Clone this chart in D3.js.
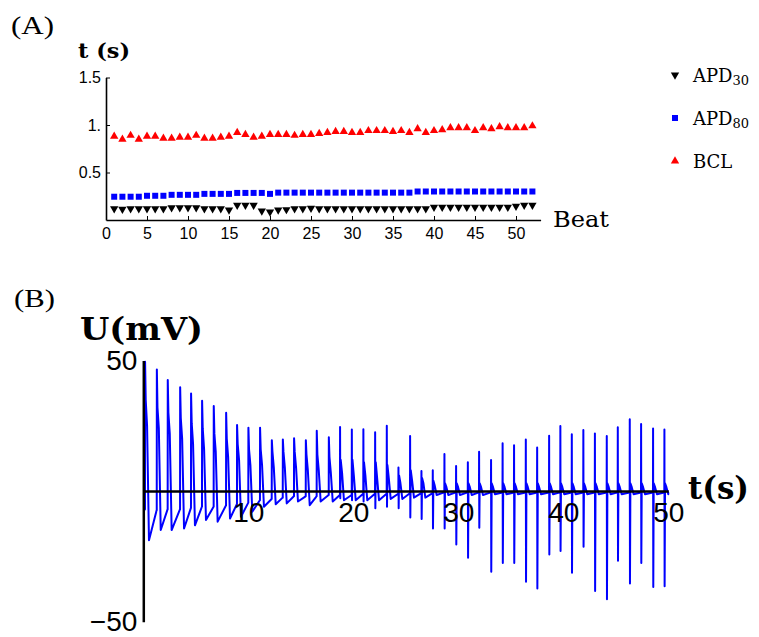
<!DOCTYPE html>
<html>
<head>
<meta charset="utf-8">
<script src="https://cdn.jsdelivr.net/npm/d3@7"></script>
<style>
  body { margin: 0; background: #fff; }
  .tick line { stroke: #000; }
</style>
</head>
<body>
<div id="chart"></div>
<script>
// ---- panel A : per beat intervals (s) ----
var beatNo = d3.range(1, 53);
var bcl = [0.88,0.85,0.89,0.85,0.88,0.88,0.86,0.86,0.87,0.87,
           0.89,0.86,0.86,0.87,0.88,0.92,0.90,0.87,0.88,0.90,
           0.90,0.90,0.89,0.90,0.90,0.91,0.92,0.93,0.93,0.92,
           0.92,0.94,0.94,0.94,0.93,0.94,0.92,0.96,0.92,0.94,
           0.95,0.97,0.97,0.97,0.94,0.97,0.96,0.98,0.97,0.97,0.97,0.99];
var apd80 = [0.245,0.245,0.245,0.245,0.255,0.255,0.255,0.265,0.265,0.265,
             0.265,0.275,0.275,0.275,0.275,0.285,0.285,0.285,0.285,0.275,
             0.288,0.288,0.288,0.288,0.288,0.288,0.288,0.288,0.288,0.288,
             0.288,0.288,0.288,0.288,0.288,0.288,0.288,0.300,0.300,0.300,
             0.300,0.300,0.300,0.300,0.300,0.300,0.300,0.300,0.300,0.300,0.300,0.300];
var apd30 = [0.120,0.115,0.120,0.120,0.120,0.120,0.120,0.130,0.130,0.130,
             0.130,0.120,0.120,0.120,0.105,0.155,0.155,0.155,0.095,0.085,
             0.105,0.110,0.120,0.120,0.125,0.120,0.120,0.120,0.120,0.120,
             0.120,0.120,0.120,0.120,0.120,0.120,0.120,0.120,0.120,0.135,
             0.135,0.135,0.135,0.135,0.135,0.135,0.135,0.135,0.135,0.145,0.155,0.155];
var beatTicks = [0,5,10,15,20,25,30,35,40,45,50];
var tTicks = [0.5, 1, 1.5];
var tTickText = ["0.5", "1.", "1.5"];

// ---- panel B : membrane potential trace, one entry per beat ----
var spikeT = [0.16,1.28,2.32,3.50,4.54,5.59,6.70,7.88,8.92,10.0,
              11.11,12.23,13.28,14.35,15.47,16.51,17.66,18.73,19.85,20.95,
              22.07,23.18,24.29,25.4,26.48,27.56,28.67,29.78,30.9,31.97,
              33.11,34.21,35.3,36.42,37.5,38.64,39.71,40.8,41.9,43.0,
              44.13,45.18,46.32,47.4,48.54,49.62];
var peakV = [49.5,46.6,42.5,39.8,37.4,34.6,32.6,30.0,25.3,24.3,
             24.3,19.5,19.8,20.2,19.5,23.1,20.6,24.5,23.6,23.7,
             22.5,25.0,9.0,21.1,7.7,8.0,14.2,9.6,11.0,15.1,
             11.9,18.3,17.6,19.8,16.7,21.2,24.9,21.8,23.4,22.1,
             21.1,24.4,27.5,25.7,24.0,23.6];
var downV = [null,null,null,null,null,null,null,null,null,null,
             null,null,null,null,null,null,null,-2.7,-3.5,-4.0,
             -6.6,-6.0,-6.6,-10.1,-10.7,-14.3,-14.3,-20.4,-25.5,-14.0,
             -30.9,-27.5,-27.5,-34.7,-37.3,-24.3,-22.9,-31.3,-21.3,-38.2,
             -41.4,-26.7,-35.4,-27.5,-36.7,-36.4];
var shoulderV = [35,32,30,28,26,24,22,20,18,16,
                 16,15,15,15,14,14,13,12,12,11,
                 11,10,6,8,5,4,3,3,3,3,
                 3,3,3,3,3,3,3,3,3,3,
                 3,3,3,3,3,3];
var plateauV = [25,24,22,20,18,16,15,13,12,10,
                10,9,9,9,8,8,7,7,6,6,
                5,5,3,4,3,2,1.5,1.5,1.5,1.5,
                1.5,1.5,1.5,1.5,1.5,1.5,1.5,1.5,1.5,1.5,
                1.5,1.5,1.5,1.5,1.5,1.5];
var troughV = [-18.8,-14.9,-14.9,-14.3,-13.1,-11.1,-11.7,-10.5,-9.8,-7.9,
               -6.0,-5.0,-4.7,-4.0,-5.4,-4.0,-4.0,-3.5,-3.5,-3.5,
               -3.5,-3.0,-3.0,-2.5,-2.5,-1.5,-1.5,-1.5,-1.5,-1.5,
               -1.2,-1.2,-1.2,-1.2,-1.2,-1.2,-1.2,-1.2,-1.2,-1.2,
               -1.2,-1.2,-1.2,-1.2,-1.2,-1.2];
var endV = [-7.3,-7.0,-7.0,-6.5,-6.0,-6.0,-5.5,-5.0,-4.5,-3.5,
            -3.0,-2.5,-2.0,-2.0,-2.0,-1.5,-1.5,-1.5,-1.0,-1.0,
            -1.0,-1.0,-0.8,-0.8,-0.8,-0.5,-0.5,-0.5,-0.5,-0.5,
            -0.5,-0.5,-0.5,-0.5,-0.5,-0.5,-0.5,-0.5,-0.5,-0.5,
            -0.5,-0.5,-0.5,-0.5,-0.5,-0.5];
var startV = -7.0;
var uTicks = [10, 20, 30, 40, 50];

var W = 759, H = 637;
var serif = "DejaVu Serif, serif";
var svg = d3.select("#chart").append("svg")
  .attr("width", W).attr("height", H)
  .style("font-family", "Liberation Sans, Arial, sans-serif");

// ================= panel A =================
var xA = d3.scaleLinear().domain([0, 53]).range([106, 540.6]);
var yA = d3.scaleLinear().domain([0, 1.5]).range([220, 77.5]);

var gA = svg.append("g");

gA.append("g")
  .attr("transform", "translate(0," + yA(0) + ")")
  .call(d3.axisBottom(xA).tickValues(beatTicks).tickSizeInner(-4).tickSizeOuter(0).tickPadding(8))
  .call(function(g) {
    g.select(".domain").attr("stroke", "#000").attr("stroke-width", 1.6);
    g.selectAll("text").attr("font-size", 16).attr("fill", "#000");
  });

gA.append("g")
  .attr("transform", "translate(" + xA(0) + ",0)")
  .call(d3.axisLeft(yA).tickValues(tTicks).tickSizeInner(-4).tickSizeOuter(0).tickPadding(5)
        .tickFormat(function(d, i) { return tTickText[i]; }))
  .call(function(g) {
    g.select(".domain").attr("stroke", "#000").attr("stroke-width", 1.6);
    g.selectAll("text").attr("font-size", 16).attr("fill", "#000");
  });

var triUp = d3.symbol(d3.symbolTriangle).size(30);
var square = d3.symbol(d3.symbolSquare).size(36);

gA.append("g").selectAll("path")
  .data(beatNo).enter().append("path")
    .attr("d", triUp)
    .attr("fill", "#ff0000")
    .attr("transform", function(d, i) { return "translate(" + xA(d) + "," + yA(bcl[i]) + ")"; });

gA.append("g").selectAll("path")
  .data(beatNo).enter().append("path")
    .attr("d", square)
    .attr("fill", "#0000ff")
    .attr("transform", function(d, i) { return "translate(" + xA(d) + "," + yA(apd80[i]) + ")"; });

gA.append("g").selectAll("path")
  .data(beatNo).enter().append("path")
    .attr("d", triUp)
    .attr("fill", "#000")
    .attr("transform", function(d, i) { return "translate(" + xA(d) + "," + yA(apd30[i]) + ") rotate(180)"; });

// labels panel A
svg.append("text").attr("x", 11).attr("y", 34)
  .attr("font-family", "Liberation Serif, serif").attr("font-size", 26)
  .attr("textLength", 43).attr("lengthAdjust", "spacingAndGlyphs")
  .text("(A)");
svg.append("text").attr("x", 78).attr("y", 58)
  .attr("font-family", serif).attr("font-size", 21).attr("font-weight", "bold")
  .attr("textLength", 52).attr("lengthAdjust", "spacingAndGlyphs")
  .text("t (s)");
svg.append("text").attr("x", 553).attr("y", 227)
  .attr("font-family", serif).attr("font-size", 22)
  .attr("textLength", 56).attr("lengthAdjust", "spacingAndGlyphs")
  .text("Beat");

// legend
var legend = [
  {sym: triUp, rot: 180, color: "#000", name: "APD", sub: "30", y: 75},
  {sym: square, rot: 0, color: "#0000ff", name: "APD", sub: "80", y: 118},
  {sym: triUp, rot: 0, color: "#ff0000", name: "BCL", sub: "", y: 161}
];
var lg = svg.append("g").selectAll("g").data(legend).enter().append("g");
lg.append("path")
  .attr("d", function(d) { return d.sym(); })
  .attr("fill", function(d) { return d.color; })
  .attr("transform", function(d) { return "translate(675," + d.y + ") rotate(" + d.rot + ")"; });
var lt = lg.append("text")
  .attr("x", 693).attr("y", function(d) { return d.y + 7; })
  .attr("font-family", serif).attr("font-size", 18);
lt.append("tspan").text(function(d) { return d.name; });
lt.append("tspan").attr("font-size", 13).attr("dy", 3).text(function(d) { return d.sub; });

// ================= panel B =================
var xB = d3.scaleLinear().domain([0, 50]).range([143.3, 668.3]);
var yB = d3.scaleLinear().domain([-50, 50]).range([621.7, 360.5]);

// build the trace beat by beat from the read values
var trace = [[0, startV]];
spikeT.forEach(function(t0, i) {
  var prev = i === 0 ? startV : endV[i - 1];
  var tNext = i < spikeT.length - 1 ? spikeT[i + 1] : 50;
  trace.push([t0, prev]);
  trace.push([t0 + 0.01, peakV[i]]);
  if (downV[i] !== null) {
    trace.push([t0 + 0.03, downV[i]]);
  }
  trace.push([t0 + 0.07, shoulderV[i]]);
  trace.push([t0 + 0.2, plateauV[i]]);
  trace.push([t0 + 0.38, troughV[i]]);
  trace.push([tNext - 0.01, endV[i]]);
});

var line = d3.line()
  .x(function(d) { return xB(d[0]); })
  .y(function(d) { return yB(d[1]); });

svg.append("path")
  .datum(trace)
  .attr("d", line)
  .attr("fill", "none")
  .attr("stroke", "#0000ff")
  .attr("stroke-width", 2)
  .attr("stroke-linejoin", "round");

svg.append("g")
  .attr("transform", "translate(0," + yB(0) + ")")
  .call(d3.axisBottom(xB).tickValues(uTicks).tickSize(0).tickPadding(11))
  .call(function(g) {
    g.select(".domain").attr("stroke", "#000").attr("stroke-width", 2.5);
    g.selectAll("text").attr("font-size", 28).attr("fill", "#000");
  });

svg.append("g")
  .attr("transform", "translate(" + xB(0) + ",0)")
  .call(d3.axisLeft(yB).tickValues([-50, 50]).tickSize(0).tickPadding(6))
  .call(function(g) {
    g.select(".domain").attr("stroke", "#000").attr("stroke-width", 2.5);
    g.selectAll("text").attr("font-size", 28).attr("fill", "#000");
  });

svg.append("text").attr("x", 14).attr("y", 307)
  .attr("font-family", "Liberation Serif, serif").attr("font-size", 26)
  .attr("textLength", 41).attr("lengthAdjust", "spacingAndGlyphs")
  .text("(B)");
svg.append("text").attr("x", 80).attr("y", 340)
  .attr("font-family", serif).attr("font-size", 32).attr("font-weight", "bold")
  .attr("textLength", 123).attr("lengthAdjust", "spacingAndGlyphs")
  .text("U(mV)");
svg.append("text").attr("x", 688).attr("y", 499)
  .attr("font-family", serif).attr("font-size", 31).attr("font-weight", "bold")
  .attr("textLength", 61).attr("lengthAdjust", "spacingAndGlyphs")
  .text("t(s)");
</script>
</body>
</html>
